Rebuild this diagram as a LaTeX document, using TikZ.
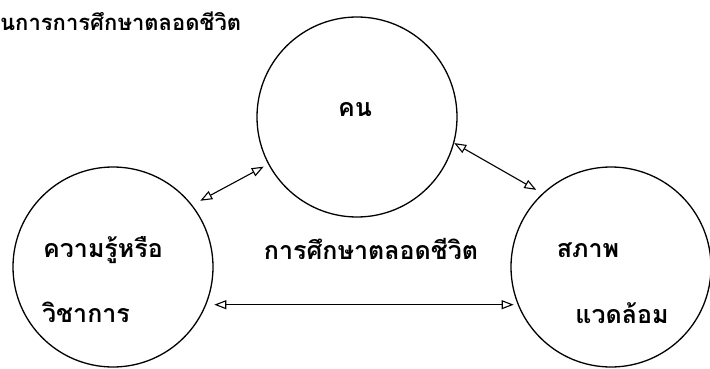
\documentclass[tikz,border=0pt]{standalone}
\usepackage{fontspec}
\newfontfamily\thaifont[Script=Thai]{Loma}
\usetikzlibrary{arrows.meta}
\begin{document}
\begin{tikzpicture}[x=1pt,y=-1pt,
  ring/.style={circle,draw,line width=1.3pt,minimum size=200pt,inner sep=0pt},
  lbl/.style={font=\thaifont\fontsize{25}{28}\selectfont\bfseries,inner sep=0pt,anchor=center},
  ttl/.style={font=\thaifont\fontsize{22}{26}\selectfont\bfseries,inner sep=0pt,anchor=west},
  link/.style={line width=1.1pt,{Triangle[open,length=12pt,width=9pt]}-{Triangle[open,length=12pt,width=9pt]}}]
\useasboundingbox (0,0) rectangle (710,369);
\node[ring] (T) at (357,117) {};
\node[ring] (L) at (113,267) {};
\node[ring] (R) at (611,267) {};
\node[lbl] (tn) at (355,110) {คน};
\node[lbl] (l1) at (103,250) {ความรู้หรือ};
\node[lbl] (l2) at (86,312) {วิชาการ};
\node[lbl] (mid) at (371,249) {การศึกษาตลอดชีวิต};
\node[lbl] (r1) at (588,250) {สภาพ};
\node[lbl] (r2) at (622,313) {แวดล้อม};
\node[ttl] (title) at (0,21) {นการการศึกษาตลอดชีวิต};
\draw[link,shorten <=9pt,shorten >=5pt] (L.38) -- (T.208);
\draw[link,shorten <=0pt,shorten >=7pt] (T.-15) -- (R.133);
\draw[link,shorten <=8pt,shorten >=4pt] (L.-22) -- (R.202);
\end{tikzpicture}
\end{document}
